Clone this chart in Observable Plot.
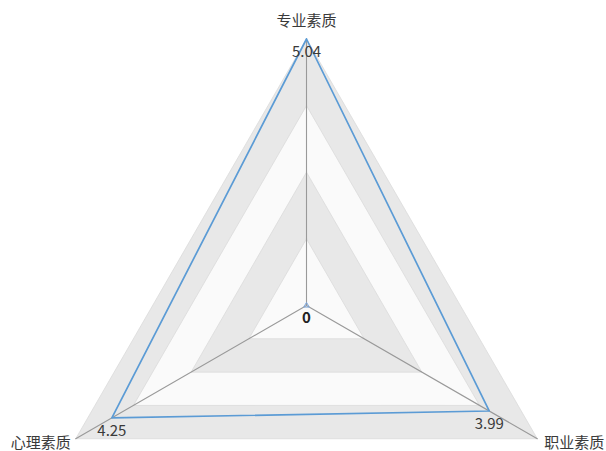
<!DOCTYPE html>
<html>
<head>
<meta charset="utf-8">
<script src="https://cdn.jsdelivr.net/npm/d3@7"></script>
<script src="https://cdn.jsdelivr.net/npm/@observablehq/plot@0.6"></script>
<style>
  html, body { margin: 0; padding: 0; background: #fff; }
  #chart svg { display: block; }
</style>
</head>
<body>
<div id="chart"></div>
<script>
const categories = ["专业素质", "职业素质", "心理素质"];
const values = [5.04, 3.99, 4.25];
const zeroValues = [0, 0, 0];
const valueLabels = ["5.04", "3.99", "4.25"];
const axisMax = 5.04;
const ringCount = 4;

const W = 606, H = 451;
const cx = 306, cy = 305;      // pixel center
const k = 266.5 / axisMax;     // px per unit

const angle = i => (i * 2 * Math.PI) / categories.length; // clockwise from top
const px = (r, i) => r * Math.sin(angle(i));
const py = (r, i) => r * Math.cos(angle(i));

const rings = [];
for (let j = ringCount; j >= 1; j--) {
  const r = (axisMax * j) / ringCount;
  const pts = categories.map((c, i) => ({ring: j, x: px(r, i), y: py(r, i)}));
  pts.push({...pts[0]});
  rings.push({j, pts});
}

const axes = categories.flatMap((c, i) => [
  {axis: c, x: 0, y: 0},
  {axis: c, x: px(axisMax, i), y: py(axisMax, i)}
]);

const series = categories.map((c, i) => ({cat: c, v: values[i], label: valueLabels[i], x: px(values[i], i), y: py(values[i], i)}));
const seriesClosed = [...series, series[0]];

const outer = categories.map((c, i) => ({cat: c, x: px(axisMax, i), y: py(axisMax, i)}));

const font = "'Noto Sans CJK SC', 'Noto Sans', sans-serif";

const marks = [];
rings.forEach(({j, pts}) => {
  marks.push(Plot.line(pts, {x: "x", y: "y", fill: j % 2 === 0 ? "#e8e8e8" : "#fafafa", stroke: "#dadada", strokeWidth: 0.8}));
});
marks.push(Plot.line(axes, {x: "x", y: "y", z: "axis", stroke: "#999", strokeWidth: 1.1}));
marks.push(Plot.line(seriesClosed, {x: "x", y: "y", stroke: "#5b9bd5", strokeWidth: 1.7}));
marks.push(Plot.dot([{x: 0, y: 0}], {x: "x", y: "y", symbol: "triangle", r: 2, stroke: "#7aa6de", strokeWidth: 1, fill: "none"}));
marks.push(Plot.text(series, {x: "x", y: "y", text: "label", dy: 13, fill: "#3a3a3a", fontSize: 15, fontFamily: font}));
marks.push(Plot.text([{x: 0, y: 0, t: String(zeroValues[0])}], {x: "x", y: "y", text: "t", dy: 13, fill: "#222", fontSize: 15, fontWeight: "bold", fontFamily: font}));
marks.push(Plot.text(outer.filter((d, i) => i === 0), {x: "x", y: "y", text: "cat", dy: -18, textAnchor: "middle", fill: "#3a3a3a", fontSize: 15, fontFamily: font}));
marks.push(Plot.text(outer.filter((d, i) => i === 1), {x: "x", y: "y", text: "cat", dx: 7, dy: 4, textAnchor: "start", fill: "#3a3a3a", fontSize: 15, fontFamily: font}));
marks.push(Plot.text(outer.filter((d, i) => i === 2), {x: "x", y: "y", text: "cat", dx: -5, dy: 4, textAnchor: "end", fill: "#3a3a3a", fontSize: 15, fontFamily: font}));

const chart = Plot.plot({
  width: W,
  height: H,
  margin: 0,
  style: {background: "#fff", overflow: "visible"},
  x: {type: "linear", domain: [-cx / k, (W - cx) / k], range: [0, W], axis: null},
  y: {type: "linear", domain: [-(H - cy) / k, cy / k], range: [H, 0], axis: null},
  marks
});
document.getElementById("chart").appendChild(chart);
</script>
</body>
</html>
